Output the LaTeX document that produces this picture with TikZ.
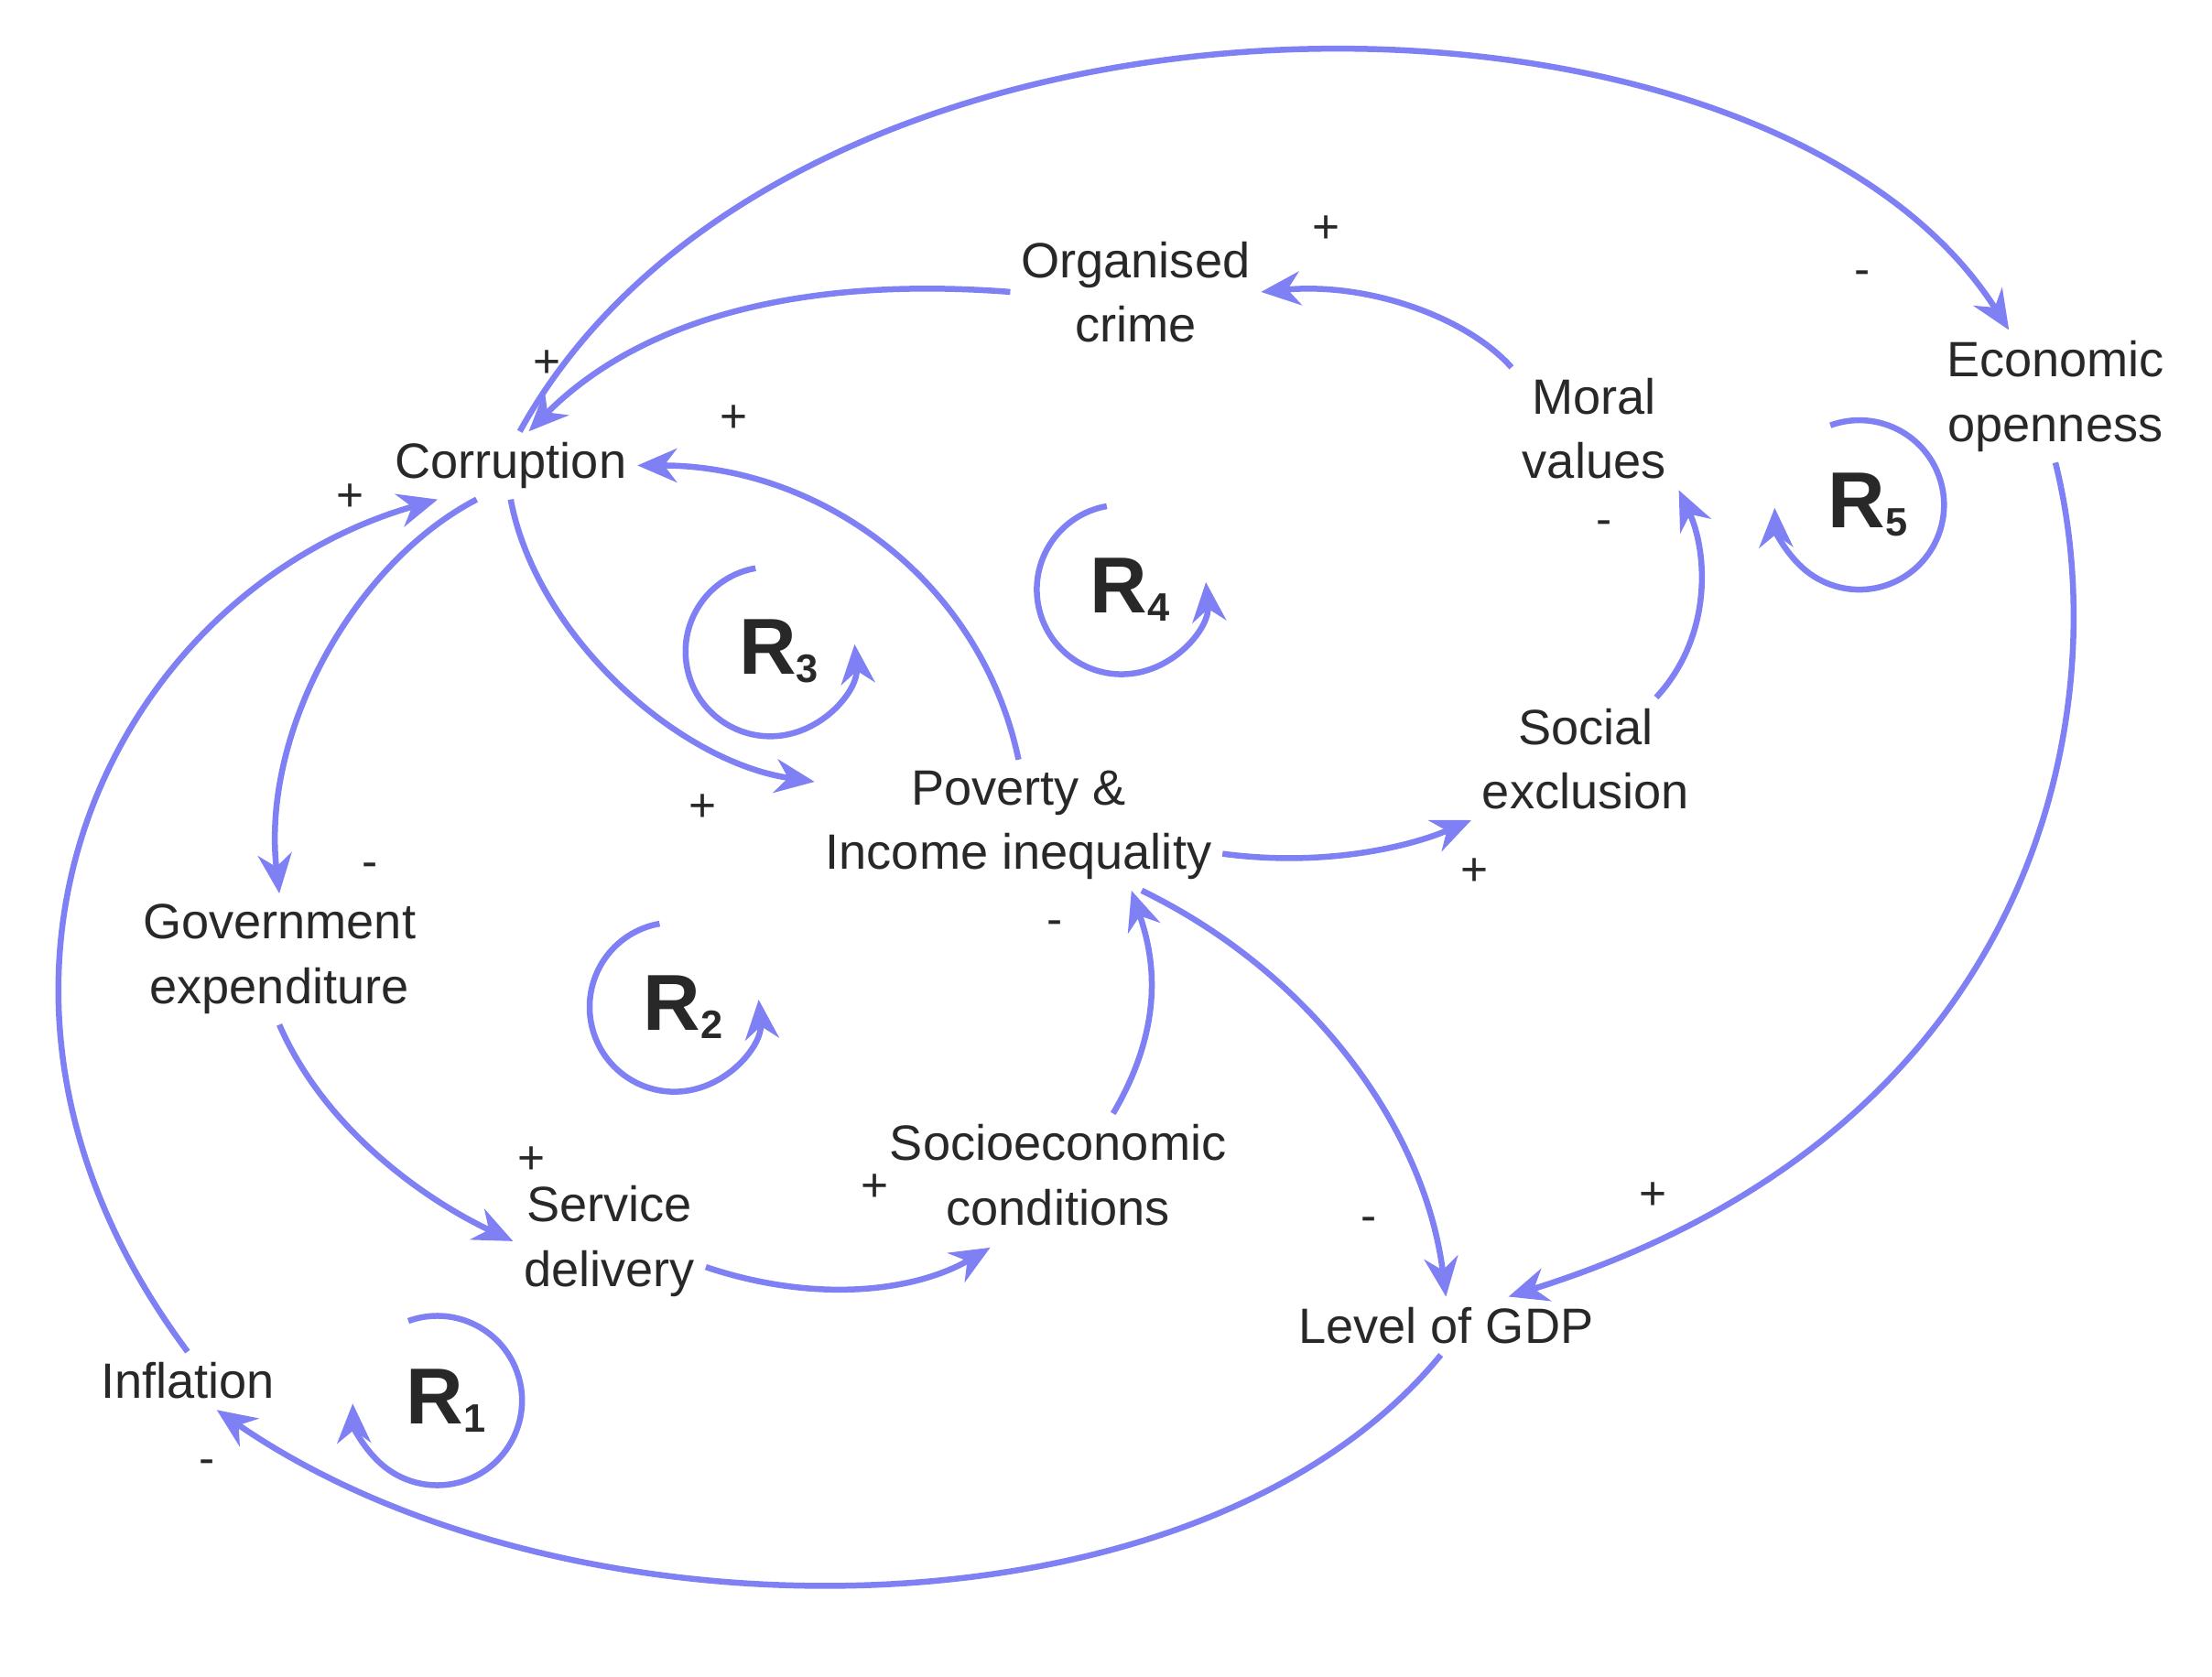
\documentclass[tikz,border=0pt]{standalone}
\usepackage{fontspec}
\setmainfont{Liberation Sans}
\usetikzlibrary{arrows.meta}
\definecolor{lc}{RGB}{128,128,245}
\definecolor{tc}{RGB}{40,40,40}
\begin{document}
\begin{tikzpicture}[x=0.01cm,y=-0.01cm,
  v/.style={align=center,inner sep=2pt,font=\fontsize{10}{13}\selectfont,text=tc},
  arr/.style={draw=lc,line width=1.2pt,-{Stealth[length=2.8mm,width=2.4mm]}},
  sg/.style={inner sep=0pt,font=\fontsize{9.5}{11}\selectfont,text=tc},
  rl/.style={inner sep=0pt,font=\fontsize{16}{18}\bfseries\selectfont,text=tc}]
\useasboundingbox (0,0) rectangle (1568,1189);
\node[v] (org) at (805,207) {Organised\\crime};
\node[v] (corr) at (362,330) {Corruption};
\node[v] (moral) at (1130,304) {Moral\\values};
\node[v] (eco) at (1457,281) {Economic\\openness};
\node[v] (pov) at (722,585) {Poverty \&\\Income inequality};
\node[v] (soc) at (1124,538) {Social\\exclusion};
\node[v] (gov) at (198,680) {Government\\expenditure};
\node[v] (svc) at (432,880) {Service\\delivery};
\node[v] (socio) at (750,833) {Socioeconomic\\conditions};
\node[v] (gdp) at (1025,940) {Level of GDP};
\node[v] (infl) at (133,979) {Inflation};

\draw[arr] (corr.75) .. controls (560,-40) and (1250,-40) .. (eco.125);
\draw[arr] (org.west) .. controls (560,195) and (450,230) .. (corr.62);
\draw[arr] (moral.north west) .. controls (1040,225) and (970,200) .. (org.east);
\draw[arr] (pov.north) .. controls (695,410) and (580,330) .. (corr.east);
\draw[arr] (corr.south) .. controls (380,450) and (480,540) .. (pov.168);
\draw[arr] (corr.225) .. controls (250,400) and (185,520) .. (gov.north);
\draw[arr] (infl.north) .. controls (-60,700) and (80,420) .. (corr.205);
\draw[arr] (gov.south) .. controls (230,800) and (300,850) .. (svc.west);
\draw[arr] (svc.-15) .. controls (580,925) and (650,915) .. ([xshift=-0.48cm,yshift=-0.08cm]socio.south);
\draw[arr] ([xshift=0.39cm]socio.north) .. controls (830,720) and (815,670) .. ([xshift=0.8cm]pov.south);
\draw[arr] (pov.-8) .. controls (940,615) and (1000,600) .. (soc.south west);
\draw[arr] ([xshift=0.5cm]soc.north) .. controls (1215,450) and (1210,390) .. ([xshift=0.6cm]moral.south);
\draw[arr] (pov.-28) .. controls (930,690) and (1010,800) .. (gdp.north);
\draw[arr] (eco.south) .. controls (1500,500) and (1450,800) .. (gdp.25);
\draw[arr] (gdp.-100) .. controls (850,1170) and (400,1170) .. (infl.-45);

\node[sg] (s1) at (1320,197) {-};
\node[sg] (s2) at (388,258) {+};
\node[sg] (s3) at (940,163) {+};
\node[sg] (s4) at (520,297) {+};
\node[sg] (s5) at (498,573) {+};
\node[sg] (s6) at (262,617) {-};
\node[sg] (s7) at (248,353) {+};
\node[sg] (s8) at (377,823) {+};
\node[sg] (s9) at (620,842) {+};
\node[sg] (s10) at (748,658) {-};
\node[sg] (s11) at (1045,618) {+};
\node[sg] (s12) at (1137,374) {-};
\node[sg] (s13) at (970,868) {-};
\node[sg] (s14) at (1172,848) {+};
\node[sg] (s15) at (147,1040) {-};

% loops
\node[rl] (r1) at (316,993) {R\raisebox{-0.2ex}{\fontsize{8}{8}\selectfont 1}};
\draw[arr] (310,993) ++(110:0.6cm) arc[start angle=110,end angle=-178,radius=0.6cm];
\node[rl] (r2) at (484,714) {R\raisebox{-0.2ex}{\fontsize{8}{8}\selectfont 2}};
\draw[arr] (478,714) ++(100:0.6cm) arc[start angle=100,end angle=365,radius=0.6cm];
\node[rl] (r3) at (552,462) {R\raisebox{-0.2ex}{\fontsize{8}{8}\selectfont 3}};
\draw[arr] (546,462) ++(100:0.6cm) arc[start angle=100,end angle=365,radius=0.6cm];
\node[rl] (r4) at (801,418) {R\raisebox{-0.2ex}{\fontsize{8}{8}\selectfont 4}};
\draw[arr] (795,418) ++(100:0.6cm) arc[start angle=100,end angle=365,radius=0.6cm];
\node[rl] (r5) at (1324,358) {R\raisebox{-0.2ex}{\fontsize{8}{8}\selectfont 5}};
\draw[arr] (1318,358) ++(110:0.6cm) arc[start angle=110,end angle=-178,radius=0.6cm];
\end{tikzpicture}
\end{document}
